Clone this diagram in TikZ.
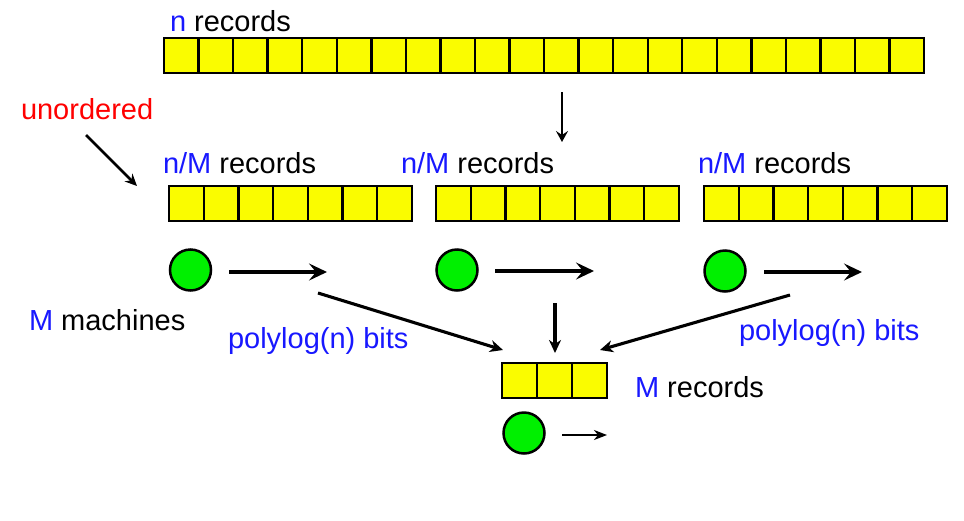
\documentclass[tikz,border=0pt]{standalone}
\usepackage{fontspec}
\setmainfont{Liberation Sans}
\usetikzlibrary{arrows.meta}
\definecolor{cellyellow}{RGB}{250,252,0}
\definecolor{ballgreen}{RGB}{0,240,0}
\definecolor{txtblue}{RGB}{24,24,255}
\definecolor{txtred}{RGB}{255,0,0}
\tikzset{
  cell/.style={draw=black, fill=cellyellow, line width=2.4pt, inner sep=0pt, outer sep=0pt,
    minimum height=35pt, anchor=north west},
  ball/.style={circle, draw=black, fill=ballgreen, line width=2.5pt, inner sep=0pt,
    minimum size=41pt},
  lbl/.style={anchor=base west, inner sep=0pt, outer sep=0pt, font=\fontsize{29}{34}\selectfont},
  bigarrow/.style={line width=3.4pt, -{Stealth[length=18pt, width=17pt, inset=7pt]}},
  medarrow/.style={line width=3.1pt, -{Stealth[length=13pt, width=12pt, inset=4pt]}},
  thinarrow/.style={line width=2.5pt, -{Stealth[length=12pt, width=11pt, inset=4pt]}},
}
\begin{document}
\begin{tikzpicture}[x=1pt, y=-1pt]
\useasboundingbox (0,0) rectangle (964,520);

% top array of n records
\foreach \i in {0,...,21}
  \node[cell, minimum width=34.55pt] (top\i) at ({164+\i*34.55},38) {};
\node[lbl] (ntxt) at (170,31) {\textcolor{txtblue}{n} records};

% arrow from top array down
\coordinate (tA) at (562,92);
\coordinate (tB) at (562,142);
\draw[line width=2.9pt, -{Stealth[length=11pt, width=12pt, inset=4pt]}] (tA) -- (tB);

% unordered label
\node[lbl, text=txtred] (unord) at (21,119) {unordered};
\coordinate (uA) at (86,135);
\coordinate (uB) at (137,186);
\draw[thinarrow] (uA) -- (uB);

% middle arrays
\foreach \a/\x in {L/169, C/436, R/704} {
  \foreach \i in {0,...,6}
    \node[cell, minimum width=34.7pt] (\a\i) at ({\x+\i*34.7},186) {};
}
\node[lbl] (Ltxt) at (163,173) {\textcolor{txtblue}{n/M} records};
\node[lbl] (Ctxt) at (401,173) {\textcolor{txtblue}{n/M} records};
\node[lbl] (Rtxt) at (698,173) {\textcolor{txtblue}{n/M} records};

% machines
\node[ball] (mL) at (190.5,270) {};
\node[ball] (mC) at (457,270) {};
\node[ball] (mR) at (725,271) {};

% outgoing horizontal arrows
\coordinate (hLa) at (229,272);
\coordinate (hLb) at (327,272);
\coordinate (hCa) at (495,271);
\coordinate (hCb) at (594,271);
\coordinate (hRa) at (764,272);
\coordinate (hRb) at (862,272);
\draw[bigarrow] (hLa) -- (hLb);
\draw[bigarrow] (hCa) -- (hCb);
\draw[bigarrow] (hRa) -- (hRb);

\node[lbl] (mtxt) at (29,330) {\textcolor{txtblue}{M} machines};
\node[lbl, text=txtblue] (plL) at (228,348) {polylog(n) bits};
\node[lbl, text=txtblue] (plR) at (739,340) {polylog(n) bits};

% converging arrows
\coordinate (dLa) at (318,293);
\coordinate (dLb) at (503,350);
\coordinate (dCa) at (555,303);
\coordinate (dCb) at (555,353);
\coordinate (dRa) at (790,295);
\coordinate (dRb) at (600,350);
\draw[medarrow] (dLa) -- (dLb);
\draw[medarrow] (dCa) -- (dCb);
\draw[medarrow] (dRa) -- (dRb);

% bottom array of M records
\foreach \i in {0,...,2}
  \node[cell, minimum width=35pt] (B\i) at ({502+\i*35},363) {};
\node[lbl] (Btxt) at (635,397) {\textcolor{txtblue}{M} records};

% final machine
\node[ball] (mB) at (524,433) {};
\coordinate (fA) at (562,435);
\coordinate (fB) at (607,435);
\draw[line width=2.2pt, -{Stealth[length=13pt, width=10pt, inset=4pt]}] (fA) -- (fB);
\end{tikzpicture}
\end{document}
